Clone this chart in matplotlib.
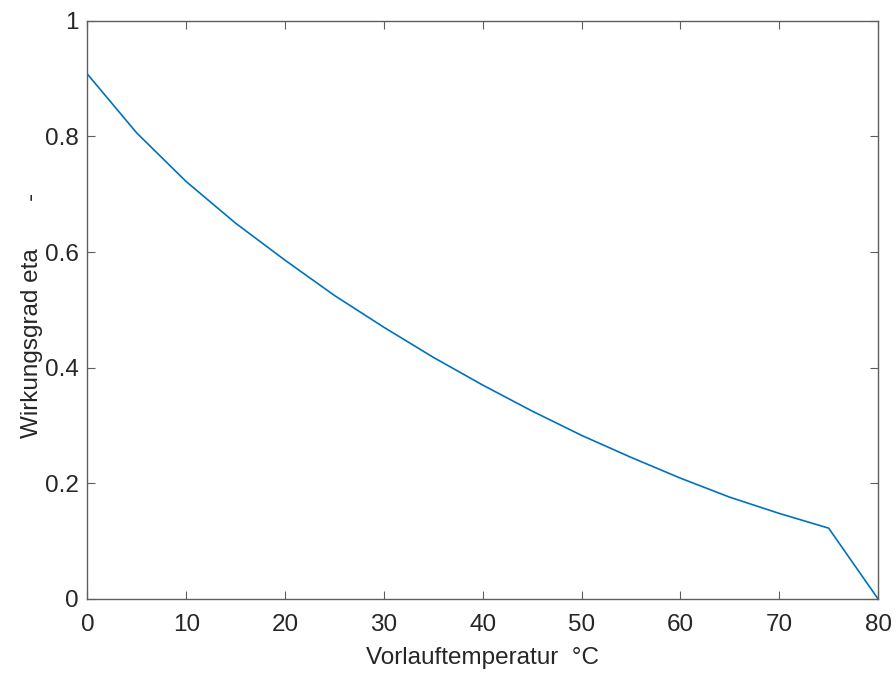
import matplotlib
matplotlib.use("Agg")
import matplotlib.pyplot as plt

# Supply temperature (°C) and efficiency
temperatures = [0, 5, 10, 15, 20, 25, 30, 35, 40, 45, 50, 55, 60, 65, 70, 75, 80]
efficiency = [0.908, 0.806, 0.722, 0.650, 0.586, 0.525, 0.470, 0.418, 0.370,
              0.325, 0.283, 0.245, 0.209, 0.176, 0.148, 0.1225, 0.0]

x_ticks = [0, 10, 20, 30, 40, 50, 60, 70, 80]
y_ticks = [0, 0.2, 0.4, 0.6, 0.8, 1.0]
y_tick_labels = ["0", "0.2", "0.4", "0.6", "0.8", "1"]

plt.rcParams["font.family"] = ["Liberation Sans", "DejaVu Sans"]

text_color = "#262626"
axis_color = "#5e5e5e"
fs = 17.5

fig = plt.figure(figsize=(8.96, 6.73), dpi=100)
ax = fig.add_axes([0.0975, 0.110, 0.8825, 0.859])

ax.plot(temperatures, efficiency, color="#0072BD", linewidth=1.2)

ax.set_xlim(0, 80)
ax.set_ylim(0, 1)
ax.set_xticks(x_ticks)
ax.set_yticks(y_ticks)
ax.set_yticklabels(y_tick_labels)

ax.tick_params(direction="in", length=5.5, width=0.8, color=axis_color,
               labelcolor=text_color, labelsize=fs, top=True, right=True)
ax.tick_params(axis="y", pad=6)
ax.tick_params(axis="x", pad=11)
for spine in ax.spines.values():
    spine.set_color(axis_color)
    spine.set_linewidth(1.0)

ax.set_xlabel("Vorlauftemperatur  °C", fontsize=fs, color=text_color, labelpad=8)
ax.set_ylabel("Wirkungsgrad eta       -", fontsize=fs, color=text_color)
ax.yaxis.set_label_coords(-0.056, 0.49)

fig.savefig("out.png", dpi=100)
